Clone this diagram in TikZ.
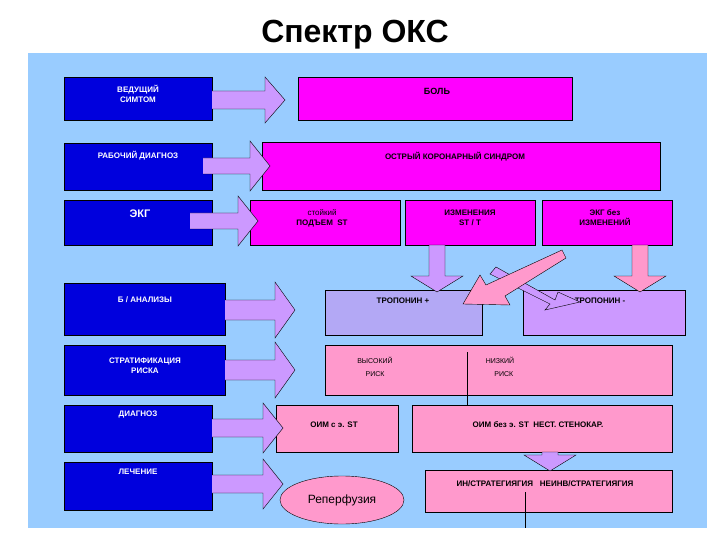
\documentclass[tikz,border=0pt]{standalone}
\usepackage{fontspec}
\setmainfont{Liberation Sans}
\usetikzlibrary{shapes.geometric}
\definecolor{bgc}{HTML}{99CCFF}
\definecolor{dblue}{HTML}{0000DD}
\definecolor{mag}{HTML}{FF00FF}
\definecolor{lav}{HTML}{CC99FF}
\definecolor{lav2}{HTML}{B3A8F5}
\definecolor{pnk}{HTML}{FF99CC}
\newcommand\harr[5]{% x1 x2 yc shaftwidth headhalf ; head length 20
 \fill[lav] (#1,#3-#4) -- (#2-20,#3-#4) -- (#2-20,#3-#5) -- (#2,#3) -- (#2-20,#3+#5) -- (#2-20,#3+#4) -- (#1,#3+#4) -- cycle;
 \draw[black,line width=0.4pt] (#1,#3-#4) -- (#2-20,#3-#4) -- (#2-20,#3-#5) -- (#2,#3) -- (#2-20,#3+#5) -- (#2-20,#3+#4) -- (#1,#3+#4);}
\newcommand\varr[4]{% xc y1 y2 color
 \filldraw[fill=#4,draw=black,line width=0.4pt] (#1-8,#2) -- (#1+8,#2) -- (#1+8,#3-16) -- (#1+26,#3-16) -- (#1,#3) -- (#1-26,#3-16) -- (#1-8,#3-16) -- cycle;}
\begin{document}
\begin{tikzpicture}[x=1pt,y=-1pt,
 lbox/.style={draw=black,line width=0.4pt,fill=dblue,anchor=north west,inner sep=0pt},
 rbox/.style={draw=black,line width=0.4pt,anchor=north west,inner sep=0pt},
 lt/.style={white,font=\bfseries\fontsize{8}{10}\selectfont,align=center},
 rt/.style={font=\bfseries\fontsize{8}{10}\selectfont,align=center}]
\fill[white] (0,0) rectangle (720,540);
\useasboundingbox (0,0) rectangle (720,540);
\node[font=\bfseries\fontsize{32}{36}\selectfont] (title) at (355,35) {Спектр ОКС};
\fill[bgc] (28,53) rectangle (707,528);
% left boxes
\node[lbox,minimum width=148pt,minimum height=43pt] (l1) at (64,77) {};
\node[lt] at (138,94) {ВЕДУЩИЙ\\СИМТОМ};
\node[lbox,minimum width=148pt,minimum height=47pt] (l2) at (64,143) {};
\node[lt] at (138,156) {РАБОЧИЙ ДИАГНОЗ};
\node[lbox,minimum width=148pt,minimum height=45pt] (l3) at (64,200) {};
\node[white,font=\bfseries\fontsize{11}{13}\selectfont] at (140,214) {ЭКГ};
\node[lbox,minimum width=161pt,minimum height=52pt] (l4) at (64,283) {};
\node[lt] at (145,300) {Б / АНАЛИЗЫ};
\node[lbox,minimum width=161pt,minimum height=50pt] (l5) at (64,345) {};
\node[lt] at (145,366) {СТРАТИФИКАЦИЯ\\РИСКА};
\node[lbox,minimum width=148pt,minimum height=47pt] (l6) at (64,405) {};
\node[lt] at (138,415) {ДИАГНОЗ};
\node[lbox,minimum width=148pt,minimum height=48pt] (l7) at (64,462) {};
\node[lt] at (138,472) {ЛЕЧЕНИЕ};
% right boxes
\node[rbox,fill=mag,minimum width=274pt,minimum height=43pt] (boln) at (298,77) {};
\node[font=\bfseries\fontsize{9}{11}\selectfont] at (437,91) {БОЛЬ};
\node[rbox,fill=mag,minimum width=398pt,minimum height=48pt] (oks) at (262,142) {};
\node[rt] at (455,157) {ОСТРЫЙ КОРОНАРНЫЙ СИНДРОМ};
\node[rbox,fill=mag,minimum width=150pt,minimum height=45pt] (e1) at (250,200) {};
\node[rt] at (322,218) {{\mdseries стойкий}\\ПОДЪЕМ \ ST};
\node[rbox,fill=mag,minimum width=130pt,minimum height=45pt] (e2) at (405,200) {};
\node[rt] at (470,218) {ИЗМЕНЕНИЯ\\ST / T};
\node[rbox,fill=mag,minimum width=130pt,minimum height=45pt] (e3) at (542,200) {};
\node[rt] at (605,218) {ЭКГ без\\ИЗМЕНЕНИЙ};
\node[rbox,fill=lav2,minimum width=157pt,minimum height=45pt] (tp) at (325,290) {};
\node[rt] at (403,301) {ТРОПОНИН +};
\node[rbox,fill=lav,minimum width=162pt,minimum height=45pt] (tm) at (523,290) {};
\node[rt] at (600,301) {ТРОПОНИН -};
\node[rbox,fill=pnk,minimum width=347pt,minimum height=50pt] (risk) at (325,345) {};
\node[font=\fontsize{7}{13}\selectfont,align=center] at (375,367) {ВЫСОКИЙ\\РИСК};
\node[font=\fontsize{7}{13}\selectfont,align=center] at (500,367) {НИЗКИЙ\\\ \ \ \ РИСК};
\draw[line width=0.4pt] (467,352) -- (467,412);
\node[rbox,fill=pnk,minimum width=122pt,minimum height=47pt] (oim1) at (276,405) {};
\node[rt] at (334,425) {ОИМ с э. ST};
\node[rbox,fill=pnk,minimum width=260pt,minimum height=47pt] (oim2) at (412,405) {};
\node[rt] at (538,425) {ОИМ без э. ST \ НЕСТ. СТЕНОКАР.};
\node[rbox,fill=pnk,minimum width=247pt,minimum height=42pt] (str) at (425,470) {};
\node[rt] at (545,484) {ИН/СТРАТЕГИЯГИЯ \ \ НЕИНВ/СТРАТЕГИЯГИЯ};
\draw[line width=0.4pt] (525,492) -- (525,528);
\node[ellipse,draw=black,fill=pnk,minimum width=124pt,minimum height=48pt,font=\fontsize{12}{14}\selectfont] (rep) at (342,500) {Реперфузия};
% horizontal block arrows
\harr{212}{285}{100}{9}{23}
\harr{203}{270}{166}{8}{25}
\harr{190}{258}{221}{8}{25}
\harr{225}{295}{310}{10}{28}
\harr{225}{295}{370}{10}{28}
\harr{212}{283}{428}{9}{25}
\harr{212}{283}{484}{9}{25}
% down arrows
\varr{437}{245}{292}{lav}
\varr{640}{245}{292}{pnk}
\varr{550}{452}{471}{lav}
% diagonal arrows
\filldraw[fill=lav,draw=black,line width=0.4pt] (490,274) -- (496,267) -- (555,300) -- (558,292) -- (580,302) -- (545,310) -- (550,304) -- cycle;
\filldraw[fill=pnk,draw=black,line width=0.4pt] (562,250) -- (566,258) -- (505,296) -- (510,305) -- (463,304) -- (480,275) -- (486,285) -- cycle;
\end{tikzpicture}
\end{document}
